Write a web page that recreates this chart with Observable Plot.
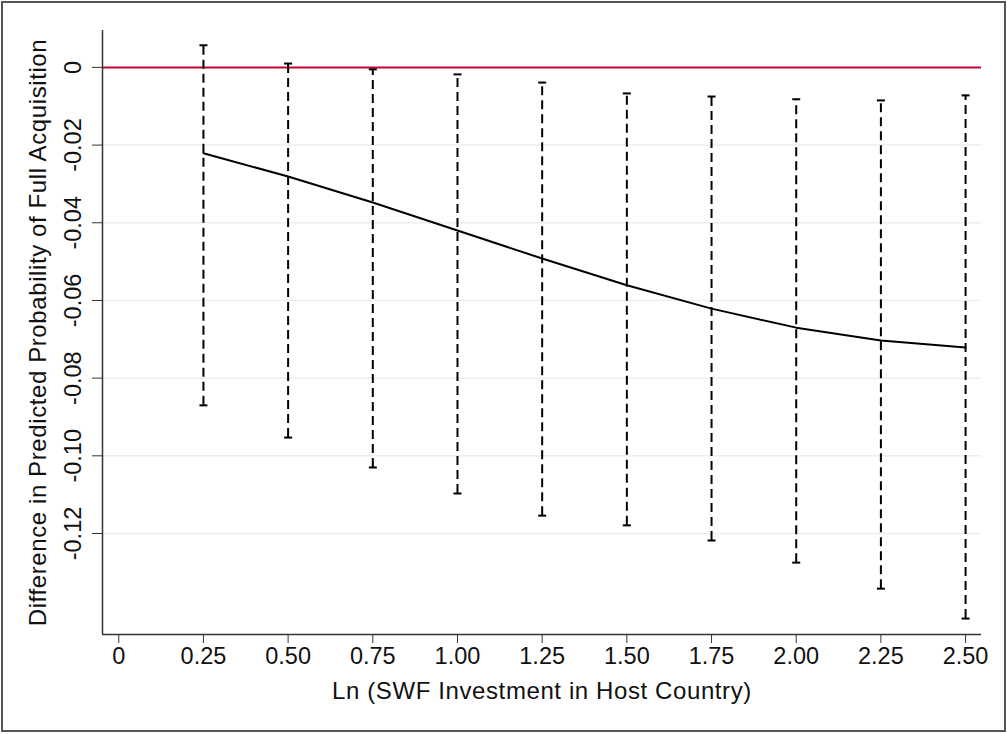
<!DOCTYPE html>
<html>
<head>
<meta charset="utf-8">
<script src="https://cdn.jsdelivr.net/npm/d3@7"></script>
<script src="https://cdn.jsdelivr.net/npm/@observablehq/plot@0.6"></script>
<style>
  html, body { margin: 0; padding: 0; background: #fff; }
  #wrap { position: relative; width: 1007px; height: 734px; }
  #border { position: absolute; left: 1px; top: 1px; width: 1001px; height: 727px; border: 2px solid #555; pointer-events: none; }
  .ttl { letter-spacing: 0.6px; }
</style>
</head>
<body>
<div id="wrap"><div id="border"></div></div>
<script>
const xValues = [0.25, 0.50, 0.75, 1.00, 1.25, 1.50, 1.75, 2.00, 2.25, 2.50];
const estimate = [-0.0221, -0.0281, -0.0348, -0.0420, -0.0492, -0.0561, -0.0621, -0.0670, -0.0703, -0.0721];
const upperCI  = [0.0057, 0.0010, -0.0005, -0.0018, -0.0039, -0.0067, -0.0075, -0.0082, -0.0085, -0.0072];
const lowerCI  = [-0.0870, -0.0953, -0.1030, -0.1097, -0.1154, -0.1179, -0.1218, -0.1275, -0.1342, -0.1419];
const xTicks = [0, 0.25, 0.50, 0.75, 1.00, 1.25, 1.50, 1.75, 2.00, 2.25, 2.50];
const yTicks = [0, -0.02, -0.04, -0.06, -0.08, -0.10, -0.12];
const xLabel = "Ln (SWF Investment in Host Country)";
const yLabel = "Difference in Predicted Probability of Full Acquisition";

const data = xValues.map((x, i) => ({x, est: estimate[i], lo: lowerCI[i], hi: upperCI[i]}));
const xDomain = [-0.048, 2.547];
const yDomain = [-0.146, 0.0095];
const capHalf = 0.0118;
const fmtX = d => d === 0 ? "0" : d.toFixed(2);
const fmtY = d => d === 0 ? "0" : d.toFixed(2);
const axisColor = "#333";
const fs = 23.5;
const fsTitle = 24;

const chart = Plot.plot({
  width: 1007,
  height: 734,
  marginLeft: 102,
  marginRight: 26,
  marginTop: 30,
  marginBottom: 100,
  style: {fontFamily: "'Liberation Sans', Arial, Helvetica, sans-serif", fontSize: fs + "px", background: "transparent", color: "#111"},
  x: {domain: xDomain},
  y: {domain: yDomain},
  marks: [
    Plot.ruleY(yTicks.filter(d => d !== 0), {stroke: "#e8f0f1", strokeWidth: 1.5}),
    Plot.ruleY([0], {stroke: "#c10534", strokeWidth: 2}),
    Plot.ruleX([xDomain[0]], {stroke: axisColor, strokeWidth: 1.5}),
    Plot.ruleY([yDomain[0]], {stroke: axisColor, strokeWidth: 1.5}),
    Plot.axisY({ticks: yTicks, tickSize: 10, tickFormat: () => "", stroke: axisColor, label: null}),
    Plot.text(yTicks, {x: xDomain[0], y: d => d, text: fmtY, rotate: -90, dx: -29, fontSize: fs, fill: "#111"}),
    Plot.axisX({ticks: xTicks, tickSize: 9, tickPadding: 4, tickFormat: fmtX, stroke: axisColor, label: null, fontSize: fs, fill: "#111"}),
    Plot.ruleX(data, {x: "x", y1: "lo", y2: "hi", stroke: "#000", strokeWidth: 2, strokeDasharray: "9,5"}),
    Plot.link(data, {x1: d => d.x - capHalf, x2: d => d.x + capHalf, y1: "hi", y2: "hi", stroke: "#000", strokeWidth: 2}),
    Plot.link(data, {x1: d => d.x - capHalf, x2: d => d.x + capHalf, y1: "lo", y2: "lo", stroke: "#000", strokeWidth: 2}),
    Plot.line(data, {x: "x", y: "est", stroke: "#000", strokeWidth: 2}),
    Plot.text([yLabel], {frameAnchor: "left", textAnchor: "middle", dx: -64, rotate: -90, fontSize: fsTitle, fill: "#111", className: "ttl"}),
    Plot.text([xLabel], {frameAnchor: "bottom", textAnchor: "middle", dy: 64, fontSize: fsTitle, fill: "#111", className: "ttl"})
  ]
});
chart.style.position = "absolute";
chart.style.left = "0px";
chart.style.top = "0px";
document.getElementById("wrap").prepend(chart);
</script>
</body>
</html>
